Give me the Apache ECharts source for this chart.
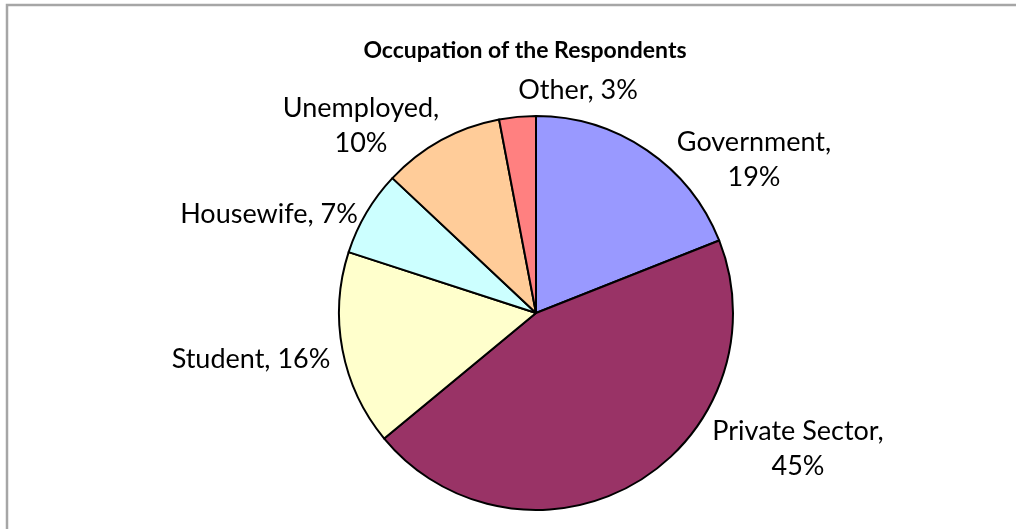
<!DOCTYPE html>
<html>
<head>
<meta charset="utf-8">
<script src="https://cdn.jsdelivr.net/npm/echarts@6/dist/echarts.min.js"></script>
<style>
  html, body { margin: 0; padding: 0; background: #fff; }
  #chart { width: 1016px; height: 529px; }
</style>
</head>
<body>
<div id="chart"></div>
<script>
// Occupation shares (percent)
const categories = ['Government', 'Private Sector', 'Student', 'Housewife', 'Unemployed', 'Other'];
const shares = [19, 45, 16, 7, 10, 3];
const sliceColors = ['#9999FF', '#993366', '#FFFFCC', '#CCFFFF', '#FFCC99', '#FF8080'];
// Line break after the comma for the labels that wrap onto two lines
const wrapLabel = [true, true, false, false, true, false];
// Label block centres
const labelCentres = [[754, 160], [798, 449], [251, 359], [269, 214], [361, 126], [578, 90]];

const FONT = 'Lato';

const chart = echarts.init(document.getElementById('chart'), null, { renderer: 'canvas' });

chart.setOption({
  backgroundColor: '#ffffff',
  animation: false,
  title: {
    text: 'Occupation of the Respondents',
    left: 520,
    top: 34,
    textAlign: 'center',
    textStyle: { fontFamily: FONT, fontWeight: 'bold', fontSize: 23, color: '#000' }
  },
  graphic: [{
    type: 'rect',
    shape: { x: 7, y: 5, width: 1200, height: 700 },
    style: { fill: 'none', stroke: '#a6a6a6', lineWidth: 2.5 },
    silent: true
  }],
  series: [{
    type: 'pie',
    center: [536, 313],
    radius: 197,
    startAngle: 90,
    clockwise: true,
    avoidLabelOverlap: false,
    data: categories.map((c, i) => ({
      name: c,
      value: shares[i],
      itemStyle: { color: sliceColors[i] }
    })),
    itemStyle: { borderColor: '#000', borderWidth: 2 },
    label: {
      show: true,
      position: 'outside',
      fontFamily: FONT,
      fontSize: 27,
      lineHeight: 35,
      color: '#000',
      align: 'center',
      formatter: p => p.name + ',' + (wrapLabel[p.dataIndex] ? '\n' : ' ') + shares[p.dataIndex] + '%'
    },
    labelLine: { show: false },
    labelLayout: p => ({
      x: labelCentres[p.dataIndex][0],
      y: labelCentres[p.dataIndex][1],
      align: 'center',
      verticalAlign: 'middle'
    }),
    emphasis: { disabled: true }
  }]
});
</script>
</body>
</html>
